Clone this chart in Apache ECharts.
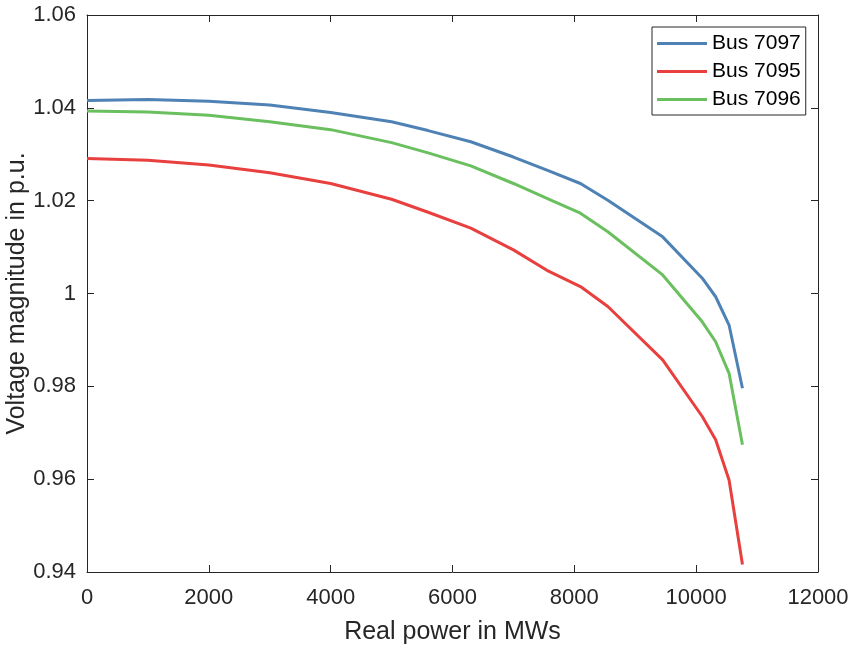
<!DOCTYPE html>
<html>
<head>
<meta charset="utf-8">
<script src="https://cdn.jsdelivr.net/npm/echarts@6/dist/echarts.min.js"></script>
<style>
html,body{margin:0;padding:0;background:#fff;}
#c{width:852px;height:649px;}
</style>
</head>
<body>
<div id="c"></div>
<script>
const power = [0, 1000, 2000, 3000, 4000, 5000, 5600, 6300, 7000, 7550, 8100, 8550, 9450, 10100, 10320, 10540, 10760];
const bus7097 = [1.0416, 1.0418, 1.0414, 1.0406, 1.0390, 1.0370, 1.0351, 1.0327, 1.0294, 1.0266, 1.0237, 1.0201, 1.0122, 1.0033, 0.9993, 0.9932, 0.9796];
const bus7095 = [1.0291, 1.0287, 1.0277, 1.0260, 1.0237, 1.0203, 1.0175, 1.0141, 1.0094, 1.0050, 1.0015, 0.9972, 0.9857, 0.9735, 0.9685, 0.9598, 0.9416];
const bus7096 = [1.0393, 1.0391, 1.0384, 1.0370, 1.0353, 1.0325, 1.0303, 1.0275, 1.0237, 1.0205, 1.0173, 1.0133, 1.0040, 0.9939, 0.9896, 0.9828, 0.9674];
const seriesNames = ['Bus 7097', 'Bus 7095', 'Bus 7096'];
const seriesColors = ['#4f82b4', '#e8403f', '#6abf5f'];
const xTicks = {min: 0, max: 12000, interval: 2000};
const yTicks = {min: 0.94, max: 1.06, interval: 0.02};

const values = [bus7097, bus7095, bus7096];
const textColor = '#262626';
const chart = echarts.init(document.getElementById('c'));

const axisCommon = {
  axisLine: {show: true, onZero: false, lineStyle: {color: textColor, width: 1}},
  axisTick: {show: true, inside: true, length: 7, lineStyle: {color: textColor, width: 1}},
  splitLine: {show: false}
};

chart.setOption({
  animation: false,
  backgroundColor: '#ffffff',
  grid: {left: 87, right: 34, top: 15, bottom: 77, containLabel: false, outerBoundsMode: 'none'},
  legend: {
    left: 652, top: 27,
    orient: 'vertical',
    data: seriesNames,
    icon: 'rect',
    itemWidth: 50, itemHeight: 3,
    itemGap: 7,
    padding: [6, 5, 5, 5],
    borderColor: textColor, borderWidth: 1,
    backgroundColor: '#fff',
    textStyle: {fontFamily: 'Liberation Sans', fontSize: 21, color: '#000'}
  },
  xAxis: [
    Object.assign({}, axisCommon, {
      type: 'value', position: 'bottom', min: xTicks.min, max: xTicks.max, interval: xTicks.interval,
      name: 'Real power in MWs', nameLocation: 'middle', nameGap: 48, nameMoveOverlap: false,
      nameTextStyle: {fontFamily: 'Liberation Sans', fontSize: 25, color: textColor},
      axisLabel: {margin: 15, fontFamily: 'Liberation Sans', fontSize: 22, color: textColor,
        formatter: v => String(v)}
    }),
    Object.assign({}, axisCommon, {
      type: 'value', position: 'top', min: xTicks.min, max: xTicks.max, interval: xTicks.interval,
      axisLabel: {show: false}
    })
  ],
  yAxis: [
    Object.assign({}, axisCommon, {
      type: 'value', position: 'left', min: yTicks.min, max: yTicks.max, interval: yTicks.interval,
      name: 'Voltage magnitude in p.u.', nameLocation: 'middle', nameGap: 57, nameRotate: 90, nameMoveOverlap: false,
      nameTextStyle: {fontFamily: 'Liberation Sans', fontSize: 25, color: textColor},
      axisLabel: {margin: 11, fontFamily: 'Liberation Sans', fontSize: 22, color: textColor,
        formatter: v => String(+v.toFixed(2))}
    }),
    Object.assign({}, axisCommon, {
      type: 'value', position: 'right', min: yTicks.min, max: yTicks.max, interval: yTicks.interval,
      axisLabel: {show: false}
    })
  ],
  series: seriesNames.map((name, i) => ({
    name: name,
    type: 'line',
    xAxisIndex: 0, yAxisIndex: 0,
    symbol: 'none',
    smooth: false,
    color: seriesColors[i],
    lineStyle: {color: seriesColors[i], width: 3},
    data: power.map((p, j) => [p, values[i][j]])
  }))
});
</script>
</body>
</html>
